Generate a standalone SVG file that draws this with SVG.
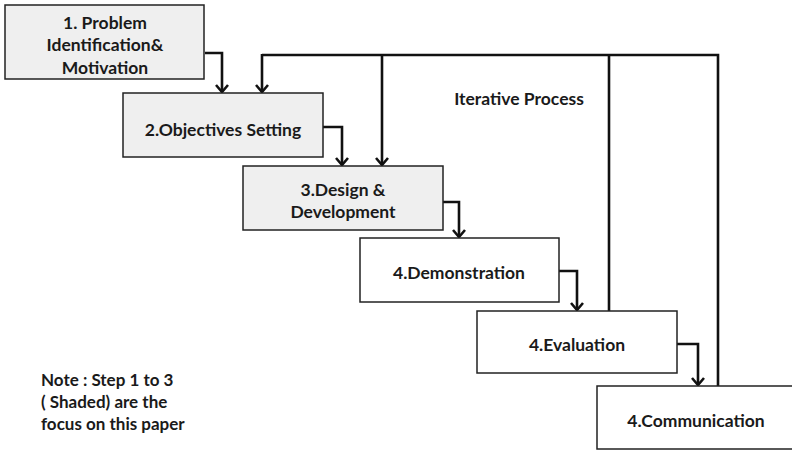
<svg xmlns="http://www.w3.org/2000/svg" width="792" height="451" viewBox="0 0 792 451">
<defs>
<style>
.box{stroke:#222;stroke-width:1.5}
.sh{fill:#efefef}
.wh{fill:#fff}
.t{font-family:Lato,"Open Sans","Liberation Sans",sans-serif;font-weight:bold;font-size:17.5px;fill:#1a1a1a;text-anchor:middle}
.n{font-family:Lato,"Open Sans","Liberation Sans",sans-serif;font-weight:bold;font-size:17px;fill:#1a1a1a}
.c{fill:none;stroke:#111;stroke-width:2.6}
</style>
<marker id="ah" markerUnits="userSpaceOnUse" viewBox="-8 -8 16 16" refX="0" refY="0" markerWidth="16" markerHeight="16" orient="auto">
<path d="M-7,-6 L0,0 L-7,6" fill="none" stroke="#111" stroke-width="2.6"/>
</marker>
</defs>
<rect width="792" height="451" fill="#fff"/>
<g id="connectors">
<path class="c" d="M205,53 H222 V92" marker-end="url(#ah)"/>
<path class="c" d="M323,127 H342 V165" marker-end="url(#ah)"/>
<path class="c" d="M443,202 H459 V237" marker-end="url(#ah)"/>
<path class="c" d="M559,271 H577 V310" marker-end="url(#ah)"/>
<path class="c" d="M677,344 H698 V385" marker-end="url(#ah)"/>
<path class="c" d="M609,311 V55"/>
<path class="c" d="M718,386 V55 H262"/>
<path class="c" d="M262,54 V92" marker-end="url(#ah)"/>
<path class="c" d="M382,54 V165" marker-end="url(#ah)"/>
</g>
<g id="n1">
<rect class="box sh" x="5" y="5" width="199" height="74"/>
<text class="t" x="105" y="29">1. Problem</text>
<text class="t" x="105" y="51">Identification&amp;</text>
<text class="t" x="105" y="74">Motivation</text>
</g>
<g id="n2">
<rect class="box sh" x="123" y="93" width="200" height="64"/>
<text class="t" x="223" y="136">2.Objectives Setting</text>
</g>
<g id="n3">
<rect class="box sh" x="243" y="166" width="200" height="64"/>
<text class="t" x="343" y="196">3.Design &amp;</text>
<text class="t" x="343" y="218">Development</text>
</g>
<g id="n4">
<rect class="box wh" x="360" y="238" width="199" height="64"/>
<text class="t" x="459" y="279">4.Demonstration</text>
</g>
<g id="n5">
<rect class="box wh" x="477" y="311" width="200" height="62"/>
<text class="t" x="577" y="351">4.Evaluation</text>
</g>
<g id="n6">
<rect class="box wh" x="597" y="386" width="210" height="63"/>
<text class="t" x="696" y="427">4.Communication</text>
</g>
<g id="labels">
<text class="t" x="519" y="105">Iterative Process</text>
<text class="n" x="41" y="386">Note : Step 1 to 3</text>
<text class="n" x="41" y="408">( Shaded) are the</text>
<text class="n" x="41" y="430">focus on this paper</text>
</g>
</svg>
